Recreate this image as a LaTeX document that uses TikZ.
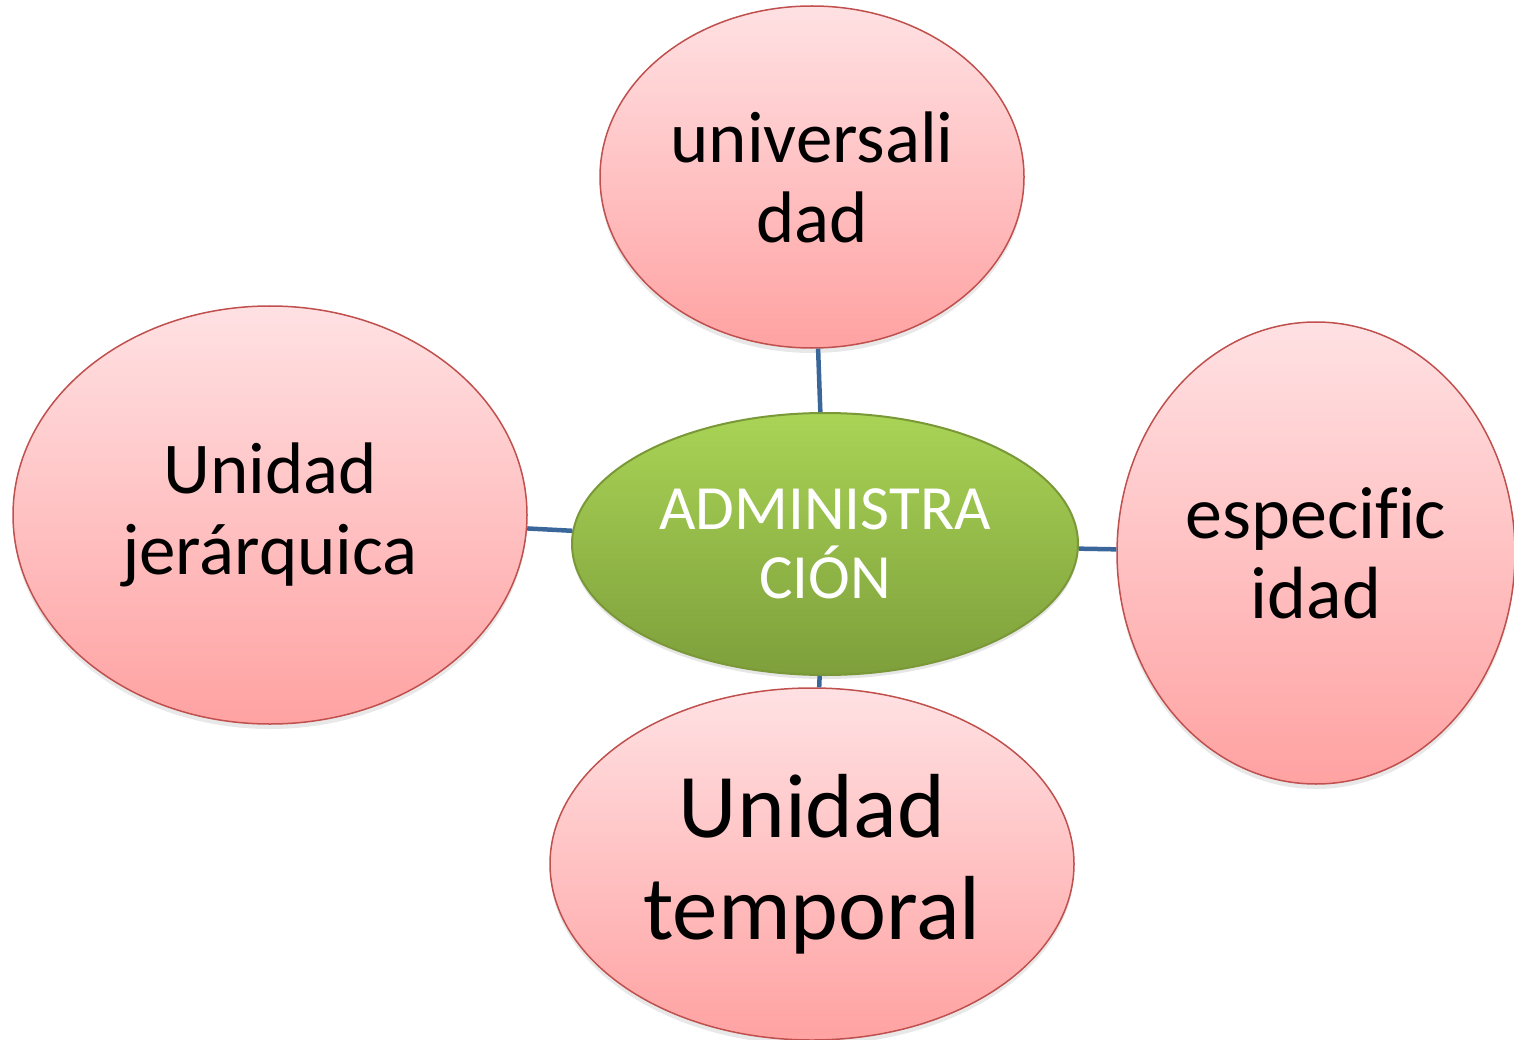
\documentclass[tikz,border=0pt]{standalone}
\usepackage{fontspec}
\setmainfont{Carlito}[RawFeature={-liga;-clig}]
\usetikzlibrary{shapes.geometric,shadows}
\definecolor{pinktop}{HTML}{FFE1E3}
\definecolor{pinkbot}{HTML}{FFA2A2}
\definecolor{pinkedge}{HTML}{C0504D}
\definecolor{greentop}{HTML}{A9D456}
\definecolor{greenbot}{HTML}{7E9F3B}
\definecolor{greenedge}{HTML}{7A9838}
\definecolor{linkblue}{HTML}{3A669A}
\tikzset{
  bubble/.style={ellipse, inner sep=0pt, draw=pinkedge, line width=1.5pt,
    top color=pinktop, bottom color=pinkbot, align=center, text=black,
    drop shadow={opacity=0.18, shadow xshift=0pt, shadow yshift=-5pt}},
  hub/.style={ellipse, inner sep=0pt, draw=greenedge, line width=2pt,
    top color=greentop, bottom color=greenbot, align=center, text=white,
    drop shadow={opacity=0.2, shadow xshift=0pt, shadow yshift=-4pt}},
  link/.style={draw=linkblue, line width=4.5pt}
}
\begin{document}
\begin{tikzpicture}[x=1pt,y=-1pt]
\useasboundingbox (0,0) rectangle (1514,1040);
\node[hub, minimum width=506pt, minimum height=262pt,
  font=\fontsize{63}{69}\selectfont] (center) at (825,544) {ADMINISTRA\\CIÓN};
\node[bubble, minimum width=424pt, minimum height=342pt,
  font=\fontsize{73}{80}\selectfont] (top) at (812,177) {universali\\dad};
\node[bubble, minimum width=514pt, minimum height=418pt,
  font=\fontsize{73}{81}\selectfont] (left) at (270,515) {Unidad\\jerárquica};
\node[bubble, minimum width=398pt, minimum height=462pt,
  font=\fontsize{74}{80}\selectfont] (right) at (1316,553) {especif\kern0pt{}ic\\idad};
\node[bubble, minimum width=524pt, minimum height=352pt,
  font=\fontsize{91}{102}\selectfont] (bottom) at (812,864) {Unidad\\temporal};
\draw[link] (top) -- (center);
\draw[link] (left) -- (center);
\draw[link] (center) -- (right);
\draw[link] (center) -- (bottom);
\end{tikzpicture}
\end{document}
